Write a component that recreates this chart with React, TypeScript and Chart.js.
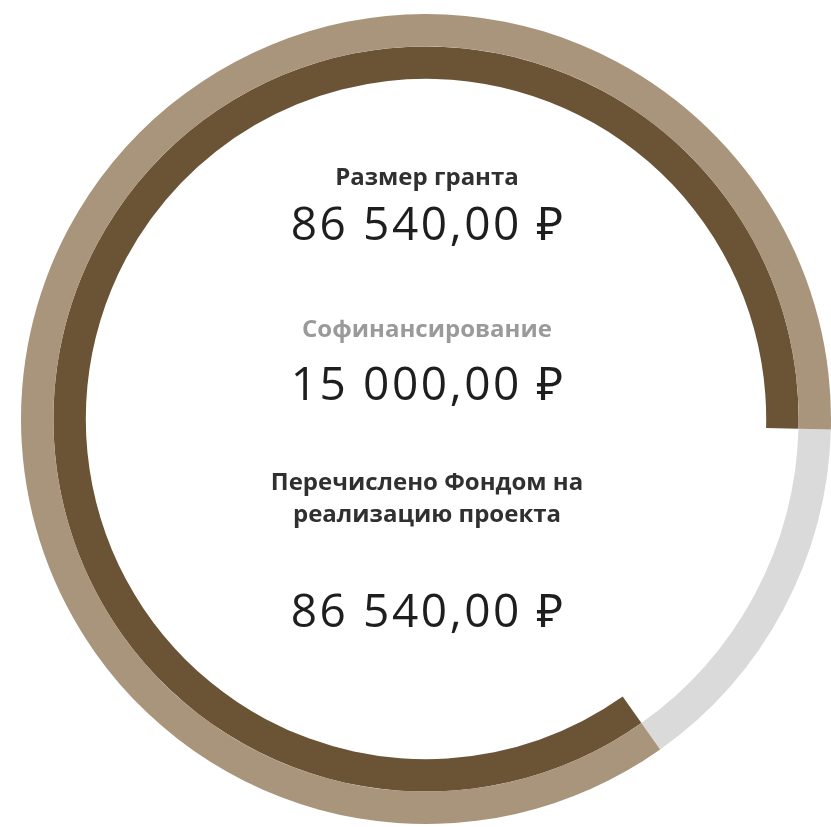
import React, { useEffect, useRef } from "react";
import { Chart, registerables } from "chart.js";

Chart.register(...registerables);

// ---- data ----
const categories = ["Софинансирование", "Размер гранта"];
const outerRingValues = [15000, 86540]; // co-financing, grant
const innerRingValues = [15000, 86540]; // gap, transferred by the Fund
const outerRingColors = ["#dadada", "#a9957b"];
const innerRingColors = ["rgba(0,0,0,0)", "#6b5335"];

const grantLabel = "Размер гранта";
const grantAmount = 86540;
const cofinLabel = "Софинансирование";
const cofinAmount = 15000;
const transferLabelLines = ["Перечислено Фондом на", "реализацию проекта"];
const transferAmount = 86540;

function formatRub(v: number): string {
  const [intPart, frac] = v.toFixed(2).split(".");
  const grouped = intPart.replace(/\B(?=(\d{3})+(?!\d))/g, " ");
  return `${grouped},${frac} \u20BD`;
}

export default function App() {
  const ref = useRef<HTMLCanvasElement | null>(null);

  useEffect(() => {
    const canvas = ref.current;
    if (!canvas) return;

    const labelFont = '700 24px "Open Sans", "Noto Sans", sans-serif';
    const numFont = '400 46px "Open Sans", "Noto Sans", sans-serif';
    const cx = 427;
    const texts = [
      { text: grantLabel, y: 185, font: labelFont, color: "#303030", ls: 0 },
      { text: formatRub(grantAmount), y: 240, font: numFont, color: "#1e1e1e", ls: 2.6 },
      { text: cofinLabel, y: 337, font: labelFont, color: "#9a9a9a", ls: 0 },
      { text: formatRub(cofinAmount), y: 400, font: numFont, color: "#1e1e1e", ls: 2.6 },
      { text: transferLabelLines[0], y: 490, font: labelFont, color: "#303030", ls: 0 },
      { text: transferLabelLines[1], y: 522, font: labelFont, color: "#303030", ls: 0 },
      { text: formatRub(transferAmount), y: 627, font: numFont, color: "#1e1e1e", ls: 2.6 },
    ];

    const centerText = {
      id: "centerText",
      afterDraw(chart: any) {
        const ctx = chart.ctx as any;
        ctx.save();
        ctx.textAlign = "center";
        ctx.textBaseline = "alphabetic";
        for (const t of texts) {
          ctx.font = t.font;
          ctx.fillStyle = t.color;
          if ("letterSpacing" in ctx) ctx.letterSpacing = `${t.ls}px`;
          ctx.fillText(t.text, cx + t.ls / 2, t.y);
        }
        ctx.restore();
      },
    };

    const chart = new Chart(canvas, {
      type: "doughnut",
      data: {
        labels: categories,
        datasets: [
          {
            data: outerRingValues,
            backgroundColor: outerRingColors,
            borderWidth: 0,
            hoverOffset: 0,
          },
          {
            data: innerRingValues,
            backgroundColor: innerRingColors,
            borderWidth: 0,
            hoverOffset: 0,
          },
        ],
      },
      options: {
        responsive: false,
        animation: false,
        rotation: 91.5,
        cutout: "84%",
        layout: { padding: { left: 21, right: 0, top: 14, bottom: 3 } },
        plugins: {
          legend: { display: false },
          tooltip: { enabled: false },
        },
        events: [],
      },
      plugins: [centerText],
    });

    return () => chart.destroy();
  }, []);

  return (
    <div style={{ position: "absolute", left: 0, top: 0, width: 831, height: 827, background: "#fff" }}>
      <canvas ref={ref} width={831} height={827} style={{ width: 831, height: 827, display: "block" }} />
    </div>
  );
}
